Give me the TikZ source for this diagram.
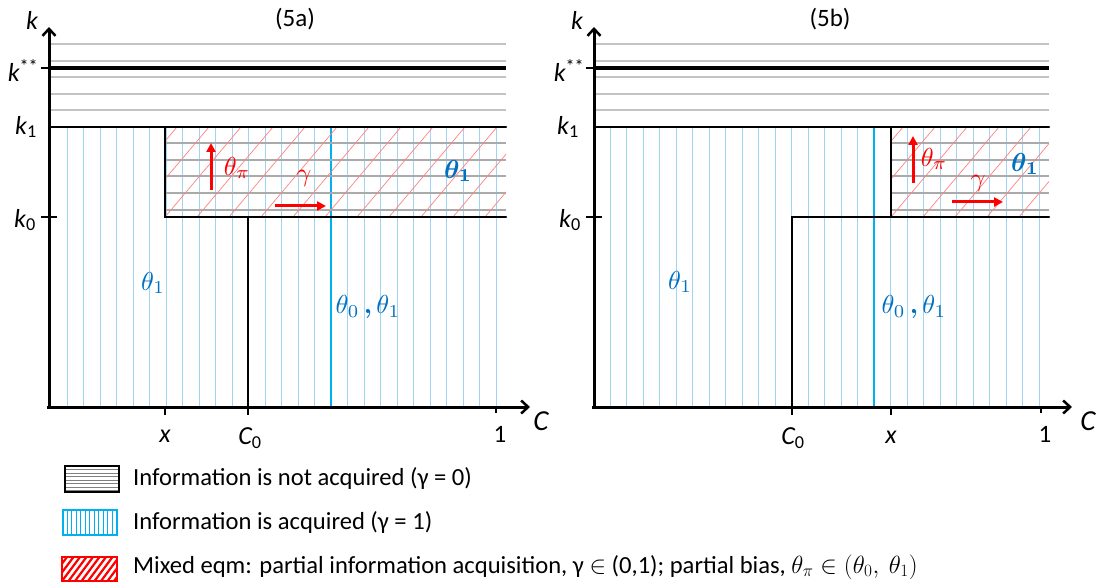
\documentclass[tikz,border=0pt]{standalone}
\usepackage{amsmath}
\usepackage{fontspec}
\setmainfont{Carlito}
\usetikzlibrary{arrows.meta}
\definecolor{lblue}{RGB}{160,212,242}
\definecolor{bblue}{RGB}{0,176,240}
\definecolor{tblue}{RGB}{0,112,192}
\definecolor{hgray}{RGB}{195,195,195}
\definecolor{hgray2}{RGB}{170,170,170}
\definecolor{hred}{RGB}{255,130,130}
\newcommand{\mlab}[1]{\scalebox{2.6}{$#1$}}
\tikzset{
  axisln/.style={line width=3pt,-{Straight Barb[length=7pt,width=13pt,line width=2.5pt]}},
  bound/.style={line width=2.4pt,line cap=round},
  grayln/.style={line width=1.5pt,hgray},
  grayin/.style={line width=1.3pt,hgray2},
  blueln/.style={line width=0.9pt,lblue},
  brightln/.style={line width=1.4pt,bblue},
  redhatch/.style={line width=0.7pt,hred},
  redarrow/.style={line width=3pt,red,-{Triangle[length=9pt,width=9pt]}},
  lab/.style={inner sep=0pt,font=\fontsize{25}{28}\selectfont},
  ilab/.style={inner sep=0pt,font=\fontsize{26}{28}\selectfont\itshape},
  blab/.style={inner sep=0pt,text=tblue,font=\fontsize{10}{12}\selectfont},
  rlab/.style={inner sep=0pt,text=red,font=\fontsize{10}{12}\selectfont},
  legtxt/.style={anchor=west,inner sep=0pt,font=\fontsize{24.6}{28}\selectfont},
  tick/.style={line width=2pt}
}
\begin{document}
\begin{tikzpicture}[x=1pt,y=-1pt]
\useasboundingbox (0,0) rectangle (1111,585);
\fill[white] (0,0) rectangle (1111,585);

% ===================== Panel 5a =====================
\foreach \yy in {44,61,77,94,110} \draw[grayln] (49,\yy) -- (506,\yy);
\foreach \i in {0,...,26} {
  \pgfmathsetmacro{\xx}{67+16.5*\i}
  \draw[blueln] (\xx,127) -- (\xx,407);
}
\draw[brightln] (331,127) -- (331,407);
\foreach \yy in {143,160,176,193,210} \draw[grayin] (165,\yy) -- (506,\yy);
\begin{scope}
  \clip (165,127) rectangle (506,217);
  \foreach \i in {-3,...,12} \draw[redhatch] (165+32*\i,217) -- (165+32*\i+76,127);
\end{scope}
\draw[line width=4pt] (49,68) -- (506,68);
\draw[bound] (49,127) -- (506,127);
\draw[bound] (165,127) -- (165,217) -- (506,217);
\draw[bound] (248,217) -- (248,407);
\draw[axisln] (49,408) -- (49,27);
\draw[axisln] (47,407) -- (530,407);
\draw[tick] (41,217) -- (57,217);
\draw[tick] (41,68) -- (49,68);
\draw[tick] (165,407) -- (165,415);
\draw[tick] (248,407) -- (248,415);
\draw[tick] (496,407) -- (496,413);
\node[lab] (t5a) at (295,19) {(5a)};
\node[ilab] (ka) at (32,20) {k};
\node[ilab] (kssa) at (23,71) {k\textsuperscript{\upshape **}};
\node[ilab] (k1a) at (26,127) {k\textsubscript{\upshape 1}};
\node[ilab] (k0a) at (25,220) {k\textsubscript{\upshape 0}};
\node[ilab] (xa) at (165,436) {x};
\node[ilab] (c0a) at (250,438) {C\textsubscript{\upshape 0}};
\node[lab] (onea) at (500,434) {1};
\node[ilab,font=\fontsize{29}{30}\selectfont\itshape] (ca) at (541,421) {C};
\draw[redarrow] (211,190) -- (211,143);
\node[rlab] (tpa) at (237,168) {\mlab{\theta_\pi}};
\node[rlab] (ga) at (304,178) {\mlab{\gamma}};
\draw[redarrow] (275,206) -- (326,206);
\node[blab] (t1ba) at (458,171) {\mlab{\boldsymbol{\theta_1}}};
\node[blab] (t1a) at (153,283) {\mlab{\theta_1}};
\node[blab] (t01a) at (368,307) {\mlab{\theta_0\,\boldsymbol{,}\,\theta_1}};

% ===================== Panel 5b =====================
\foreach \yy in {44,61,77,94,110} \draw[grayln] (594,\yy) -- (1049,\yy);
\foreach \i in {0,...,26} {
  \pgfmathsetmacro{\xx}{610+16.5*\i}
  \draw[blueln] (\xx,127) -- (\xx,407);
}
\draw[brightln] (874,127) -- (874,407);
\foreach \yy in {143,160,176,193,210} \draw[grayin] (891,\yy) -- (1049,\yy);
\begin{scope}
  \clip (891,127) rectangle (1049,217);
  \foreach \i in {-3,...,6} \draw[redhatch] (891+32*\i,217) -- (891+32*\i+76,127);
\end{scope}
\draw[line width=4pt] (594,68) -- (1049,68);
\draw[bound] (594,127) -- (1049,127);
\draw[bound] (891,127) -- (891,217);
\draw[bound] (792,407) -- (792,217) -- (1049,217);
\draw[axisln] (594,408) -- (594,27);
\draw[axisln] (592,407) -- (1072,407);
\draw[tick] (586,217) -- (602,217);
\draw[tick] (586,68) -- (594,68);
\draw[tick] (792,407) -- (792,415);
\draw[tick] (891,407) -- (891,415);
\draw[tick] (1041,407) -- (1041,413);
\node[lab] (t5b) at (830,19) {(5b)};
\node[ilab] (kb) at (577,20) {k};
\node[ilab] (kssb) at (569,71) {k\textsuperscript{\upshape **}};
\node[ilab] (k1b) at (568,127) {k\textsubscript{\upshape 1}};
\node[ilab] (k0b) at (570,220) {k\textsubscript{\upshape 0}};
\node[ilab] (c0b) at (793,438) {C\textsubscript{\upshape 0}};
\node[ilab] (xb) at (891,437) {x};
\node[lab] (oneb) at (1045,434) {1};
\node[ilab,font=\fontsize{29}{30}\selectfont\itshape] (cb) at (1088,421) {C};
\draw[redarrow] (913,183) -- (913,136);
\node[rlab] (tpb) at (934,159) {\mlab{\theta_\pi}};
\node[blab] (t1bb) at (1025,164) {\mlab{\boldsymbol{\theta_1}}};
\node[rlab] (gb) at (978,183) {\mlab{\gamma}};
\draw[redarrow] (952,202) -- (1003,202);
\node[blab] (t1b) at (680,282) {\mlab{\theta_1}};
\node[blab] (t01b) at (914,307) {\mlab{\theta_0\,\boldsymbol{,}\,\theta_1}};

% ===================== Legend =====================
\fill[white] (65,466) rectangle (119,492);
\foreach \yy in {469.5,473,476.5,480,483.5,487,490} \draw[line width=0.8pt,gray] (66,\yy) -- (118,\yy);
\draw[line width=2.4pt] (65,466) rectangle (119,492);
\foreach \xx in {67,71.5,...,115} \draw[line width=0.9pt,bblue] (\xx,511) -- (\xx,534);
\draw[line width=2.4pt,bblue] (63,510) rectangle (117,535);
\begin{scope}
  \clip (62,557) rectangle (117,581);
  \foreach \i in {-4,...,10} \draw[line width=2.2pt,red] (62+6.5*\i,581) -- (62+6.5*\i+18,557);
\end{scope}
\draw[line width=2.4pt,red] (62,557) rectangle (117,581);
\node[legtxt] (l1) at (133,478) {Information is not acquired (γ = 0)};
\node[legtxt] (l2) at (133,522) {Information is acquired (γ = 1)};
\node[legtxt] (l3) at (133,567) {Mixed eqm: partial information acquisition, γ $\in$ (0,1); partial bias, $\theta_\pi \in (\theta_0,\ \theta_1)$};
\end{tikzpicture}
\end{document}
